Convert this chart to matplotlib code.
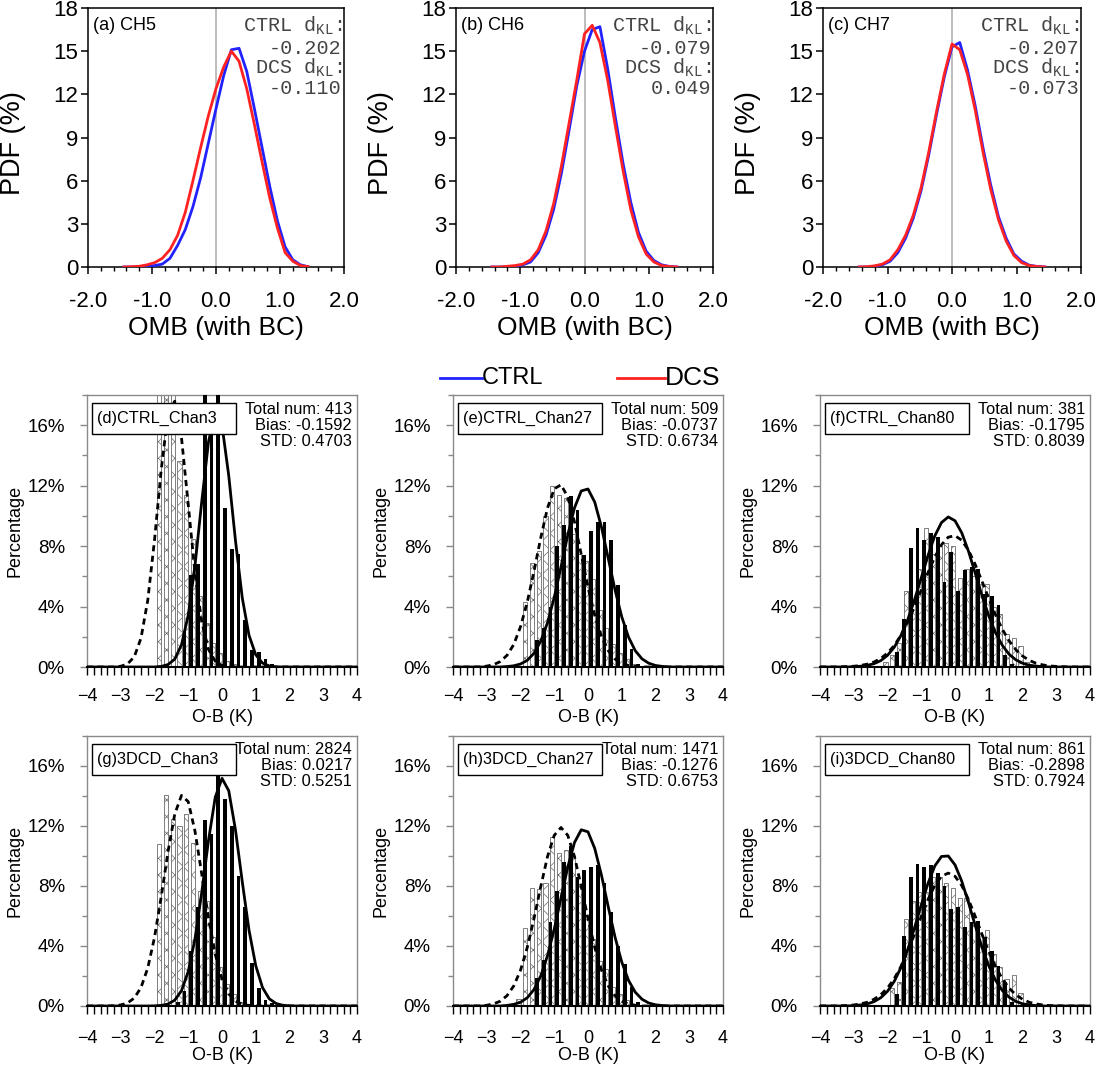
import numpy as np
import matplotlib.pyplot as plt
from matplotlib.lines import Line2D
from matplotlib.patches import Rectangle
from matplotlib.ticker import MultipleLocator

plt.rcParams['font.family'] = ['Liberation Sans', 'DejaVu Sans']
plt.rcParams['mathtext.fontset'] = 'custom'
plt.rcParams['mathtext.rm'] = 'Liberation Mono'
plt.rcParams['hatch.linewidth'] = 0.5

# ---- top row: PDF of OMB (with BC) ----
pdf_x = [-1.44, -1.32, -1.2, -1.08, -0.96, -0.84, -0.72, -0.6, -0.48, -0.36, -0.24, -0.12, 0.0,
         0.12, 0.24, 0.36, 0.48, 0.6, 0.72, 0.84, 0.96, 1.08, 1.2, 1.32, 1.44]
pdf_tags = ['(a) CH5', '(b) CH6', '(c) CH7']
a_ctrl = [0, 0, 0.02, 0.05, 0.1, 0.2, 0.6, 1.5, 2.6, 4.2, 6.2, 8.6, 11.0, 13.3, 15.1, 15.2, 13.6, 11.0, 8.3, 5.6, 3.2, 1.4, 0.5, 0.15, 0.02]
a_dcs = [0, 0.02, 0.05, 0.15, 0.3, 0.6, 1.2, 2.2, 3.8, 6.0, 8.3, 10.5, 12.4, 13.9, 15.0, 14.3, 12.4, 9.9, 7.3, 4.8, 2.7, 1.0, 0.4, 0.1, 0.02]
b_ctrl = [0, 0, 0.02, 0.05, 0.15, 0.35, 1.0, 2.2, 4.0, 6.5, 9.5, 12.6, 15.0, 16.5, 16.7, 13.8, 10.4, 7.2, 4.5, 2.4, 1.1, 0.45, 0.15, 0.04, 0]
b_dcs = [0, 0, 0.05, 0.1, 0.2, 0.5, 1.2, 2.5, 4.4, 7.0, 10.0, 13.0, 16.2, 16.8, 15.6, 13.0, 9.8, 6.7, 4.0, 2.1, 0.9, 0.35, 0.1, 0.03, 0]
c_ctrl = [0, 0, 0.05, 0.15, 0.4, 1.0, 2.0, 3.4, 5.3, 7.8, 10.6, 13.2, 15.3, 15.6, 13.7, 11.2, 8.3, 5.7, 3.5, 2.0, 0.9, 0.4, 0.12, 0.04, 0]
c_dcs = [0, 0.02, 0.08, 0.2, 0.5, 1.2, 2.2, 3.6, 5.5, 8.0, 10.8, 13.4, 15.5, 15.1, 13.4, 10.9, 8.0, 5.4, 3.3, 1.8, 0.8, 0.3, 0.1, 0.03, 0]
kl_ctrl = ['-0.202', '-0.079', '-0.207']
kl_dcs = ['-0.110', '0.049', '-0.073']

# ---- histogram panels: O-B (K) ----
bin_centers = [-2.3, -2.1, -1.9, -1.7, -1.5, -1.3, -1.1, -0.9, -0.7, -0.5, -0.3, -0.1,
               0.1, 0.3, 0.5, 0.7, 0.9, 1.1, 1.3, 1.5, 1.7, 1.9, 2.1, 2.3]
curve_x = [-4.0, -3.8, -3.6, -3.4, -3.2, -3.0, -2.8, -2.6, -2.4, -2.2, -2.0, -1.8, -1.6, -1.4,
           -1.2, -1.0, -0.8, -0.6, -0.4, -0.2, 0.0, 0.2, 0.4, 0.6, 0.8, 1.0, 1.2, 1.4, 1.6,
           1.8, 2.0, 2.2, 2.4, 2.6, 2.8, 3.0, 3.2, 3.4, 3.6, 3.8, 4.0]

d_hatch = [0, 0, 18.8, 20.0, 18.2, 13.6, 11.4, 8.5, 4.7, 2.9, 1.6, 0.9, 0.4, 0.2, 0, 0, 0, 0, 0, 0, 0, 0, 0, 0]
d_black = [0, 0, 0, 0, 0, 0, 2.4, 6.1, 6.8, 19.0, 16.3, 19.0, 10.5, 7.8, 7.5, 3.1, 1.1, 1.0, 0.5, 0.2, 0, 0, 0, 0]
e_hatch = [0, 0, 4.3, 6.9, 7.7, 10.0, 12.0, 11.4, 11.2, 8.8, 7.5, 7.0, 5.8, 3.8, 2.6, 1.5, 0.9, 0.5, 0.2, 0, 0, 0, 0, 0]
e_black = [0, 0, 0, 0, 1.8, 2.6, 4.0, 8.0, 9.4, 11.3, 10.4, 7.4, 9.0, 9.6, 9.6, 8.4, 5.4, 2.8, 1.2, 0.2, 0, 0, 0, 0]
f_hatch = [0, 0.3, 0.8, 1.6, 5.0, 4.5, 6.5, 9.2, 7.5, 8.0, 8.2, 8.0, 5.9, 6.5, 6.0, 5.5, 5.5, 4.0, 3.5, 2.2, 1.9, 1.4, 0.3, 0]
f_black = [0, 0, 0, 1.0, 3.2, 7.9, 9.2, 8.4, 8.9, 8.6, 5.6, 7.6, 5.0, 6.4, 6.6, 6.5, 4.8, 4.7, 4.1, 0.8, 0.2, 0, 0, 0]
g_hatch = [0, 0, 10.8, 14.1, 12.5, 12.0, 12.8, 10.9, 7.7, 7.0, 4.6, 2.6, 1.5, 0.8, 0.3, 0, 0, 0, 0, 0, 0, 0, 0, 0]
g_black = [0, 0, 0, 0, 0, 0.3, 1.0, 3.7, 6.6, 12.4, 11.5, 15.7, 13.8, 12.0, 8.7, 6.6, 2.9, 1.2, 0.4, 0.2, 0, 0, 0, 0]
h_hatch = [0, 0.5, 5.2, 7.9, 7.8, 8.2, 11.3, 10.2, 10.4, 10.0, 8.0, 6.0, 4.5, 3.0, 2.5, 1.3, 0.8, 0.4, 0, 0, 0, 0, 0, 0]
h_black = [0, 0, 0, 0, 1.9, 3.1, 5.6, 7.7, 9.6, 10.7, 8.6, 9.1, 9.3, 9.4, 8.2, 6.3, 4.0, 2.8, 1.3, 0.3, 0, 0, 0, 0]
i_hatch = [0, 0, 1.2, 1.6, 5.8, 7.0, 7.6, 7.6, 8.6, 8.6, 8.2, 7.9, 7.2, 7.2, 5.4, 4.8, 5.1, 3.5, 2.6, 1.8, 2.1, 0.9, 0.2, 0]
i_black = [0, 0, 0, 0.8, 4.7, 8.6, 9.5, 9.3, 9.4, 8.9, 8.0, 6.5, 6.6, 5.3, 5.6, 5.7, 4.6, 3.7, 2.7, 1.6, 0.3, 0, 0, 0]

d_dash = [0, 0, 0, 0, 0, 0.05, 0.2, 0.67, 1.91, 4.41, 8.39, 13.08, 16.74, 17.59, 15.17, 10.74, 6.23, 2.97, 1.16, 0.38, 0.1, 0.02,
          0, 0, 0, 0, 0, 0, 0, 0, 0, 0, 0, 0, 0, 0, 0, 0, 0, 0, 0]
d_solid = [0, 0, 0, 0, 0, 0, 0, 0, 0, 0, 0, 0.04, 0.16, 0.52, 1.47, 3.44, 6.72, 10.95, 14.9, 16.9, 16.0, 12.66, 8.35, 4.58,
           2.1, 0.81, 0.26, 0.07, 0.01, 0, 0, 0, 0, 0, 0, 0, 0, 0, 0, 0, 0]
e_dash = [0, 0, 0, 0, 0, 0.06, 0.15, 0.36, 0.77, 1.49, 2.66, 4.29, 6.34, 8.55, 10.52, 11.79, 12.06, 11.26, 9.6, 7.45, 5.28,
          3.41, 2.01, 1.08, 0.53, 0.24, 0.1, 0.04, 0, 0, 0, 0, 0, 0, 0, 0, 0, 0, 0, 0, 0]
e_solid = [0, 0, 0, 0, 0, 0, 0, 0, 0.03, 0.08, 0.2, 0.44, 0.91, 1.71, 2.93, 4.61, 6.62, 8.73, 10.53, 11.65, 11.78, 10.91,
           9.25, 7.19, 5.11, 3.32, 1.98, 1.08, 0.54, 0.25, 0.1, 0.04, 0, 0, 0, 0, 0, 0, 0, 0, 0]
f_dash = [0, 0, 0, 0.01, 0.03, 0.05, 0.1, 0.19, 0.33, 0.57, 0.92, 1.42, 2.11, 2.96, 3.98, 5.1, 6.24, 7.27, 8.09, 8.59, 8.69,
          8.39, 7.72, 6.78, 5.67, 4.54, 3.45, 2.51, 1.74, 1.15, 0.73, 0.44, 0.25, 0.14, 0.07, 0.04, 0.02, 0, 0, 0, 0]
f_solid = [0, 0, 0, 0, 0, 0.02, 0.05, 0.11, 0.22, 0.42, 0.77, 1.31, 2.09, 3.13, 4.44, 5.9, 7.38, 8.67, 9.56, 9.93, 9.68,
           8.88, 7.66, 6.2, 4.72, 3.38, 2.27, 1.44, 0.85, 0.48, 0.25, 0.12, 0.06, 0.02, 0, 0, 0, 0, 0, 0, 0]
g_dash = [0, 0, 0, 0, 0.02, 0.07, 0.2, 0.53, 1.23, 2.53, 4.57, 7.29, 10.28, 12.79, 14.04, 13.62, 11.65, 8.8, 5.87, 3.45,
          1.79, 0.82, 0.33, 0.12, 0.04, 0.01, 0, 0, 0, 0, 0, 0, 0, 0, 0, 0, 0, 0, 0, 0, 0]
g_solid = [0, 0, 0, 0, 0, 0, 0, 0, 0, 0, 0.01, 0.04, 0.13, 0.39, 1.02, 2.3, 4.48, 7.57, 11.04, 13.92, 15.18, 14.35, 11.73,
           8.29, 5.06, 2.69, 1.23, 0.48, 0.17, 0.05, 0.01, 0, 0, 0, 0, 0, 0, 0, 0, 0, 0]
h_dash = [0, 0, 0, 0, 0, 0.05, 0.14, 0.32, 0.69, 1.34, 2.38, 3.9, 5.83, 7.96, 9.96, 11.38, 11.9, 11.38, 9.96, 7.96, 5.83,
          3.9, 2.38, 1.34, 0.69, 0.32, 0.14, 0.05, 0, 0, 0, 0, 0, 0, 0, 0, 0, 0, 0, 0, 0]
h_solid = [0, 0, 0, 0, 0, 0, 0, 0, 0.04, 0.11, 0.25, 0.55, 1.1, 2.0, 3.35, 5.13, 7.21, 9.26, 10.9, 11.75, 11.61, 10.5,
           8.71, 6.61, 4.6, 2.93, 1.71, 0.92, 0.45, 0.2, 0.08, 0.03, 0, 0, 0, 0, 0, 0, 0, 0, 0]
i_dash = [0, 0, 0, 0.02, 0.03, 0.07, 0.14, 0.25, 0.45, 0.75, 1.2, 1.82, 2.64, 3.64, 4.78, 5.97, 7.1, 8.03, 8.65, 8.86, 8.65,
          8.03, 7.1, 5.97, 4.78, 3.64, 2.64, 1.82, 1.2, 0.75, 0.45, 0.25, 0.14, 0.07, 0.03, 0.02, 0, 0, 0, 0, 0]
i_solid = [0, 0, 0, 0, 0, 0.03, 0.07, 0.14, 0.29, 0.55, 0.98, 1.64, 2.57, 3.77, 5.21, 6.74, 8.18, 9.33, 9.97, 10.0, 9.41,
           8.32, 6.89, 5.36, 3.91, 2.68, 1.72, 1.04, 0.59, 0.31, 0.15, 0.07, 0.03, 0, 0, 0, 0, 0, 0, 0, 0]

hist_tags = ['(d)CTRL_Chan3', '(e)CTRL_Chan27', '(f)CTRL_Chan80',
             '(g)3DCD_Chan3', '(h)3DCD_Chan27', '(i)3DCD_Chan80']
total_num = ['413', '509', '381', '2824', '1471', '861']
bias = ['-0.1592', '-0.0737', '-0.1795', '0.0217', '-0.1276', '-0.2898']
std = ['0.4703', '0.6734', '0.8039', '0.5251', '0.6753', '0.7924']

W, H = 1099, 1067
fig = plt.figure(figsize=(W / 100, H / 100), dpi=100)


def px_axes(left, top, right, bottom):
    return fig.add_axes([left / W, 1 - bottom / H, (right - left) / W, (bottom - top) / H])


def ftext(x, y, s, **kw):
    return fig.text(x / W, 1 - y / H, s, **kw)


def draw_pdf(left, right, ctrl, dcs, tag, klc, kld):
    top, bottom = 8, 267
    ax = px_axes(left, top, right, bottom)
    ax.axvline(0, color='#bdbdbd', lw=1.4, zorder=1)
    ax.plot(pdf_x, ctrl, color='#2222ff', lw=2.0, zorder=3)
    ax.plot(pdf_x, dcs, color='#ff2222', lw=2.0, zorder=4)
    ax.set_xlim(-2, 2)
    ax.set_ylim(0, 18)
    ax.set_xticks([-2, -1, 0, 1, 2])
    ax.set_xticklabels(['-2.0', '-1.0', '0.0', '1.0', '2.0'])
    ax.xaxis.set_minor_locator(MultipleLocator(0.2))
    ax.set_yticks([0, 3, 6, 9, 12, 15, 18])
    ax.tick_params(direction='out', length=5, width=1.1, labelsize=16)
    ax.tick_params(axis='x', pad=12)
    ax.tick_params(axis='y', pad=2)
    ax.tick_params(axis='x', which='minor', direction='out', length=3, width=1.0)
    for s in ax.spines.values():
        s.set_linewidth(1.1)
    ftext(left + 5, top + 17, tag, fontsize=13, va='center', ha='left')
    mono = dict(family=['Liberation Mono', 'DejaVu Sans Mono'], fontsize=14.5, color='#444444',
                ha='right', va='center')
    ftext(right - 2, 26, r'CTRL d$_{\mathrm{KL}}$:', **mono)
    ftext(right - 2, 48, klc, **mono)
    ftext(right - 2, 68, r'DCS d$_{\mathrm{KL}}$:', **mono)
    ftext(right - 2, 89, kld, **mono)
    ftext(left - 75, 143, 'PDF (%)', fontsize=19.5, rotation=90, ha='center', va='center')
    ftext((left + right) / 2, 328, 'OMB (with BC)', fontsize=19, ha='center', va='center')


def draw_hist(left, right, top, bottom, hatch_vals, black_vals, dash, solid, k, xpad):
    ax = px_axes(left, top, right, bottom)
    centers = np.array(bin_centers)
    ax.bar(centers + 0.04, hatch_vals, width=0.13, facecolor='white', edgecolor='#6a6a6a',
           hatch='xx', linewidth=0.6, zorder=2)
    ax.bar(centers - 0.01, black_vals, width=0.11, color='black', linewidth=0, zorder=3)
    ax.plot(curve_x, dash, color='black', lw=2.0, ls=(0, (2.2, 1.6)), zorder=4)
    ax.plot(curve_x, solid, color='black', lw=2.0, zorder=4)
    ax.set_xlim(-4, 4)
    ax.set_ylim(0, 18)
    ax.set_xticks([-4, -3, -2, -1, 0, 1, 2, 3, 4])
    ax.xaxis.set_minor_locator(MultipleLocator(0.2))
    ax.set_yticks([0, 4, 8, 12, 16])
    ax.set_yticklabels(['0%', '4%', '8%', '12%', '16%'])
    ax.yaxis.set_minor_locator(MultipleLocator(2))
    ax.tick_params(axis='x', which='both', direction='out', length=5.5, width=1.0,
                   labelsize=13, pad=xpad)
    ax.tick_params(axis='y', which='major', direction='out', length=5, width=1.0,
                   color='#888888', labelsize=13.5, pad=11)
    ax.tick_params(axis='y', which='minor', direction='out', length=3.5, width=1.0, color='#888888')
    for name in ['left', 'right', 'top']:
        ax.spines[name].set_color('#8a8a8a')
        ax.spines[name].set_linewidth(1.0)
    ax.spines['bottom'].set_linewidth(1.5)
    # label box sits above the bars and curves
    ax.add_patch(Rectangle((5 / (right - left), 1 - 39 / (bottom - top)), 144 / (right - left),
                           31 / (bottom - top), transform=ax.transAxes, facecolor='white',
                           edgecolor='black', lw=1.0, zorder=6))
    ftext(left + 10, top + 23, hist_tags[k], fontsize=11.7, ha='left', va='center', zorder=6)
    st = dict(fontsize=11.8, ha='right', va='center')
    ftext(right - 5, top + 14, 'Total num: ' + total_num[k], **st)
    ftext(right - 5, top + 30, 'Bias: ' + bias[k], **st)
    ftext(right - 5, top + 46, 'STD: ' + std[k], **st)
    ftext(left - 72, (top + bottom) / 2, 'Percentage', fontsize=13, rotation=90, ha='center', va='center')
    ftext((left + right) / 2, bottom + 50, 'O-B (K)', fontsize=13, ha='center', va='center')


top_cols = [(88, 344), (456, 713), (823, 1081)]
draw_pdf(*top_cols[0], a_ctrl, a_dcs, pdf_tags[0], kl_ctrl[0], kl_dcs[0])
draw_pdf(*top_cols[1], b_ctrl, b_dcs, pdf_tags[1], kl_ctrl[1], kl_dcs[1])
draw_pdf(*top_cols[2], c_ctrl, c_dcs, pdf_tags[2], kl_ctrl[2], kl_dcs[2])

# legend between the rows
fig.add_artist(Line2D([440 / W, 482 / W], [1 - 378 / H, 1 - 378 / H], color='#2222ff', lw=2.0))
ftext(482, 378, 'CTRL', fontsize=17, ha='left', va='center')
fig.add_artist(Line2D([617 / W, 665 / W], [1 - 378 / H, 1 - 378 / H], color='#ff2222', lw=2.0))
ftext(665, 378, 'DCS', fontsize=19, ha='left', va='center')

hist_cols = [(87, 357), (453, 723), (820, 1090)]
mid = (395, 667)
bot = (736, 1006)
draw_hist(*hist_cols[0], *mid, d_hatch, d_black, d_dash, d_solid, 0, 9.5)
draw_hist(*hist_cols[1], *mid, e_hatch, e_black, e_dash, e_solid, 1, 9.5)
draw_hist(*hist_cols[2], *mid, f_hatch, f_black, f_dash, f_solid, 2, 9.5)
draw_hist(*hist_cols[0], *bot, g_hatch, g_black, g_dash, g_solid, 3, 12)
draw_hist(*hist_cols[1], *bot, h_hatch, h_black, h_dash, h_solid, 4, 12)
draw_hist(*hist_cols[2], *bot, i_hatch, i_black, i_dash, i_solid, 5, 12)

fig.savefig('out.png', dpi=100)
